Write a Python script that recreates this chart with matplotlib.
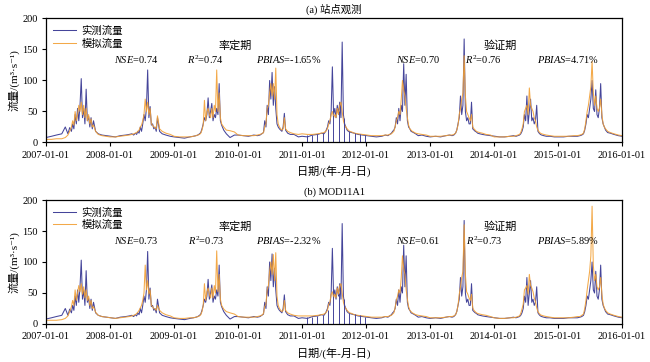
import numpy as np
import pandas as pd
import matplotlib
matplotlib.use('Agg')
from matplotlib import pyplot as plt
import matplotlib.dates as mdates

plt.rcParams['font.family'] = ['Liberation Serif', 'Noto Sans CJK SC', 'DejaVu Serif']
plt.rcParams['mathtext.fontset'] = 'custom'
plt.rcParams['mathtext.rm'] = 'Liberation Serif'
plt.rcParams['mathtext.it'] = 'Liberation Serif:italic'
plt.rcParams['font.size'] = 7

# sample days (offset from Jan 1) used for every year
knots = [0, 31, 59, 90, 110, 125, 135, 145, 152, 159, 166, 173, 180, 187, 194,
         201, 208, 215, 222, 229, 236, 243, 250, 257, 264, 271, 283, 298, 319, 344]
years = list(range(2007, 2016))

# observed flow (m3/s), one row per year
obs = [
    [8, 10, 12, 14, 25, 14, 24, 18, 30, 22, 45, 30, 55, 35, 60, 103, 40, 55, 30, 86, 35, 42, 25, 40, 22, 35, 18, 14, 12, 11],
    [10, 9, 11, 12, 13, 14, 12, 15, 13, 18, 15, 25, 18, 30, 45, 35, 55, 117, 40, 58, 28, 30, 22, 25, 18, 40, 18, 14, 12, 10],
    [9, 8, 7, 9, 10, 11, 12, 14, 16, 22, 30, 40, 35, 45, 72, 40, 50, 63, 35, 45, 40, 55, 45, 95, 35, 28, 20, 14, 8, 12],
    [12, 11, 10, 12, 11, 12, 14, 16, 35, 25, 60, 45, 100, 70, 113, 60, 90, 55, 30, 25, 22, 20, 18, 25, 47, 20, 15, 13, 13, 9],
    [10, 9, 12, 13, 15, 14, 18, 25, 35, 30, 50, 122, 45, 55, 40, 60, 45, 65, 40, 162, 45, 30, 25, 20, 18, 17, 16, 15, 13, 12],
    [11, 10, 9, 10, 12, 11, 13, 15, 18, 20, 25, 40, 30, 55, 35, 60, 50, 127, 60, 110, 35, 25, 22, 18, 17, 16, 14, 11, 12, 10],
    [9, 10, 9, 11, 12, 11, 12, 15, 20, 30, 40, 75, 45, 60, 167, 50, 35, 40, 30, 30, 65, 22, 20, 18, 17, 15, 14, 13, 12, 11],
    [10, 9, 9, 10, 11, 10, 11, 12, 14, 18, 25, 45, 35, 75, 30, 50, 70, 35, 40, 30, 35, 60, 18, 15, 13, 12, 11, 10, 10, 9],
    [9, 9, 10, 10, 10, 11, 12, 14, 20, 30, 45, 40, 55, 70, 100, 55, 50, 85, 45, 40, 55, 95, 40, 30, 25, 20, 16, 15, 13, 11],
]
# simulated flow, station observations
sim_a = [
    [5, 5, 6, 6, 8, 12, 18, 25, 35, 28, 50, 35, 45, 60, 50, 65, 45, 60, 40, 55, 35, 45, 30, 38, 25, 28, 18, 13, 11, 10],
    [9, 9, 10, 11, 12, 13, 14, 15, 16, 18, 20, 25, 28, 35, 45, 70, 50, 65, 45, 55, 30, 28, 25, 24, 22, 43, 22, 18, 15, 13],
    [10, 9, 9, 9, 10, 11, 12, 13, 15, 20, 28, 68, 35, 50, 55, 45, 40, 55, 40, 60, 50, 117, 50, 80, 40, 30, 25, 20, 19, 17],
    [12, 11, 11, 11, 12, 13, 14, 16, 25, 30, 55, 60, 80, 95, 75, 95, 70, 120, 45, 30, 25, 22, 20, 22, 40, 22, 18, 16, 14, 13],
    [14, 13, 13, 14, 15, 16, 18, 22, 30, 35, 45, 50, 40, 45, 40, 55, 45, 60, 65, 50, 35, 28, 25, 22, 20, 18, 17, 15, 14, 13],
    [12, 11, 11, 11, 12, 12, 13, 14, 16, 18, 25, 35, 40, 50, 45, 70, 100, 85, 75, 55, 40, 28, 22, 20, 18, 17, 15, 14, 13, 12],
    [10, 10, 10, 11, 12, 12, 13, 15, 20, 28, 45, 55, 70, 80, 140, 75, 50, 45, 40, 35, 45, 25, 22, 20, 18, 17, 16, 15, 13, 12],
    [9, 9, 9, 10, 10, 11, 12, 13, 16, 22, 30, 50, 55, 60, 45, 88, 60, 55, 50, 40, 35, 25, 20, 17, 15, 14, 13, 12, 11, 10],
    [10, 10, 10, 11, 11, 12, 13, 15, 22, 35, 50, 60, 75, 90, 131, 80, 60, 75, 55, 50, 55, 70, 45, 30, 25, 22, 18, 16, 14, 12],
]
# simulated flow, MOD11A1
sim_b = [
    [6, 6, 6, 7, 9, 13, 20, 28, 38, 30, 55, 38, 50, 62, 52, 65, 48, 60, 42, 55, 38, 45, 30, 38, 25, 28, 19, 14, 12, 11],
    [10, 9, 10, 11, 12, 13, 14, 15, 17, 19, 22, 26, 30, 38, 50, 95, 55, 70, 48, 55, 30, 28, 25, 24, 22, 30, 22, 18, 15, 13],
    [10, 9, 9, 10, 10, 11, 12, 13, 15, 20, 30, 65, 38, 52, 58, 48, 42, 58, 42, 62, 50, 118, 52, 80, 40, 30, 24, 20, 18, 16],
    [12, 11, 11, 11, 12, 13, 14, 17, 28, 32, 55, 62, 85, 100, 80, 112, 70, 115, 45, 30, 25, 22, 20, 22, 38, 22, 18, 16, 14, 13],
    [13, 13, 13, 14, 15, 16, 18, 22, 32, 35, 48, 52, 42, 48, 42, 58, 48, 62, 65, 50, 35, 28, 25, 22, 20, 18, 17, 15, 14, 13],
    [12, 11, 11, 11, 12, 12, 13, 14, 16, 18, 26, 38, 45, 55, 50, 75, 110, 90, 80, 55, 40, 28, 22, 20, 18, 17, 15, 14, 13, 12],
    [10, 10, 10, 11, 12, 12, 13, 15, 20, 30, 48, 60, 75, 85, 160, 80, 52, 48, 42, 38, 48, 26, 22, 20, 18, 17, 16, 15, 14, 12],
    [10, 9, 9, 10, 10, 11, 12, 13, 17, 24, 32, 55, 58, 62, 48, 80, 62, 58, 52, 42, 36, 26, 20, 17, 15, 14, 13, 12, 11, 10],
    [10, 10, 10, 11, 12, 12, 14, 16, 25, 38, 55, 70, 85, 110, 190, 95, 70, 80, 60, 55, 60, 75, 48, 32, 26, 22, 18, 16, 14, 12],
]
end_obs, end_sim_a, end_sim_b = 10, 11, 11

# 2011 observed record drops to zero once a month
gap_dates = ['2011-01-28', '2011-02-28', '2011-03-28', '2011-04-28', '2011-05-28', '2011-06-28',
             '2011-07-28', '2011-08-28', '2011-09-28', '2011-10-28', '2011-11-28', '2011-12-28']
gap_tops = [12, 12, 13, 15, 22, 45, 50, 40, 18, 16, 14, 12]

stats_a = ['0.74', '0.74', '-1.65%', '0.70', '0.76', '4.71%']
stats_b = ['0.73', '0.73', '-2.32%', '0.61', '0.73', '5.89%']

dates = []
for y in years:
    for k in knots:
        dates.append(pd.Timestamp(y, 1, 1) + pd.Timedelta(days=k))
dates.append(pd.Timestamp(2016, 1, 1))
dates = pd.DatetimeIndex(dates)


def series(rows, last):
    v = []
    for r in rows:
        v += r
    return np.array(v + [last], dtype=float)


c_obs = '#45459a'
c_sim = '#f2a035'

fig = plt.figure(figsize=(6.5, 3.62), dpi=100)
ax1 = fig.add_axes([0.0708, 0.6064, 0.8862, 0.3425])
ax2 = fig.add_axes([0.0708, 0.1050, 0.8862, 0.3425])

panels = [(ax1, sim_a, end_sim_a, stats_a, '(a) 站点观测'),
          (ax2, sim_b, end_sim_b, stats_b, '(b) MOD11A1')]

for ax, sim, end_sim, st, title in panels:
    ax.plot(dates, series(obs, end_obs), color=c_obs, lw=0.75, label='实测流量')
    ax.plot(dates, series(sim, end_sim), color=c_sim, lw=0.75, alpha=0.9, label='模拟流量')
    ax.vlines(pd.to_datetime(gap_dates), 0, gap_tops, color=c_obs, lw=0.7)

    ax.set_xlim(pd.Timestamp(2007, 1, 1), pd.Timestamp(2016, 1, 1))
    ax.set_ylim(0, 200)
    ax.set_yticks([0, 50, 100, 150, 200])
    ax.xaxis.set_major_locator(mdates.YearLocator())
    ax.xaxis.set_major_formatter(mdates.DateFormatter('%Y-%m-%d'))
    ax.tick_params(direction='out', length=3, width=0.8, labelsize=7.5, pad=3)
    for s in ax.spines.values():
        s.set_linewidth(0.9)

    ax.set_title(title, fontsize=7.5, pad=4)
    ax.set_xlabel('日期/(年-月-日)', fontsize=8, labelpad=4)
    ax.set_ylabel('流量/(m³·s⁻¹)', fontsize=8, labelpad=2)
    ax.legend(loc='upper left', frameon=False, fontsize=7.5, handlelength=2.2,
              borderaxespad=0.3, labelspacing=0.2, handletextpad=0.5)

    ax.text(pd.Timestamp(2009, 12, 14), 157, '率定期', ha='center', va='center', fontsize=8)
    ax.text(pd.Timestamp(2014, 2, 3), 157, '验证期', ha='center', va='center', fontsize=8)
    ax.text(pd.Timestamp(2008, 5, 28), 134, r'$NSE$=' + st[0], ha='center', va='center', fontsize=7.5)
    ax.text(pd.Timestamp(2009, 7, 1), 134, r'$R^{\mathrm{2}}$=' + st[1], ha='center', va='center', fontsize=7.5)
    ax.text(pd.Timestamp(2010, 10, 16), 134, r'$PBIAS$=' + st[2], ha='center', va='center', fontsize=7.5)
    ax.text(pd.Timestamp(2012, 10, 23), 134, r'$NSE$=' + st[3], ha='center', va='center', fontsize=7.5)
    ax.text(pd.Timestamp(2013, 11, 3), 134, r'$R^{\mathrm{2}}$=' + st[4], ha='center', va='center', fontsize=7.5)
    ax.text(pd.Timestamp(2015, 2, 27), 134, r'$PBIAS$=' + st[5], ha='center', va='center', fontsize=7.5)

fig.savefig('out.png', dpi=100)
